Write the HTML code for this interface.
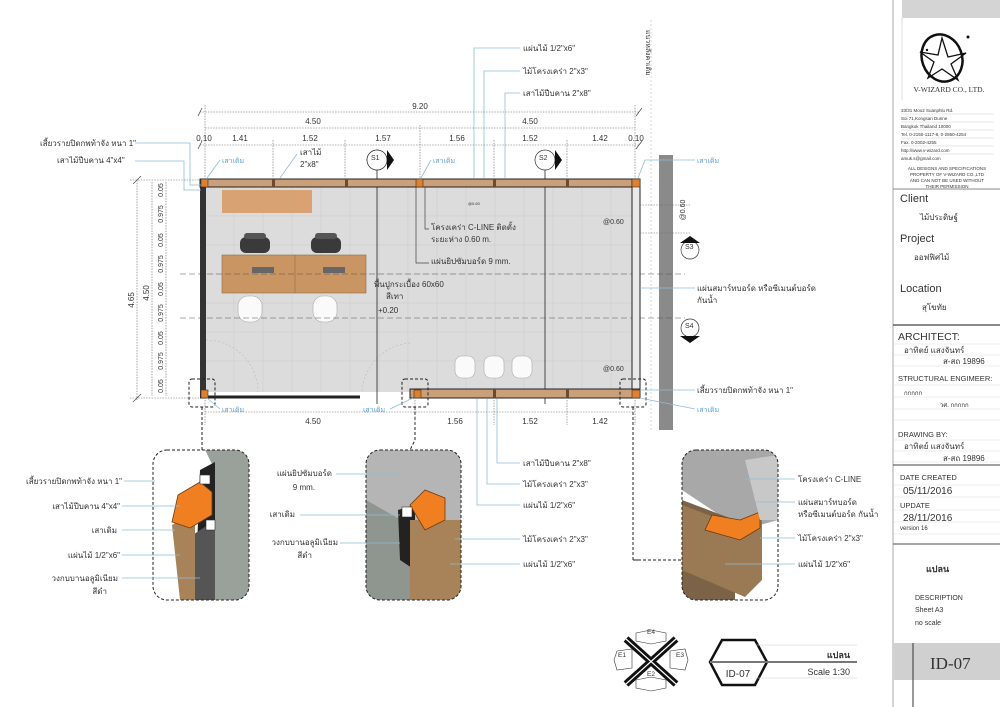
<!DOCTYPE html>
<html><head><meta charset="utf-8"><style>
html,body{margin:0;padding:0;background:#fff}
svg{display:block}
text{font-family:"Liberation Sans","DejaVu Sans",sans-serif;fill:#333}
.s{font-size:8px}.m{font-size:9px}.b{fill:#5a9fd0;font-size:7px}
.cl{stroke:#8fbcd8;stroke-width:.8;fill:none}
.dm{stroke:#666;stroke-width:.6;fill:none;stroke-dasharray:1.5 1.2}
.dl{stroke:#444;stroke-width:.7;fill:none}
.dash{stroke:#222;stroke-width:1;fill:none;stroke-dasharray:3 2}
.hl{stroke:#ccc;stroke-width:.6}
</style></head><body>
<svg width="1000" height="707" viewBox="0 0 1000 707" xmlns="http://www.w3.org/2000/svg">
<defs>
<clipPath id="c1"><rect x="153" y="450" width="96" height="150" rx="14"/></clipPath>
<clipPath id="c2"><rect x="366" y="450" width="95" height="150" rx="14"/></clipPath>
<clipPath id="c3"><rect x="682" y="450" width="96" height="150" rx="14"/></clipPath>
</defs>

<!-- ===== TITLE BLOCK ===== -->
<line x1="893" y1="0" x2="893" y2="707" stroke="#aaa" stroke-width="1"/>
<rect x="902" y="0" width="98" height="18" fill="#d4d4d4"/>
<line x1="902" y1="18" x2="902" y2="100" stroke="#ddd"/>
<!-- logo -->
<ellipse cx="942" cy="58" rx="20" ry="24" fill="none" stroke="#111" stroke-width="2.5" transform="rotate(-20 942 58)"/>
<polygon points="942,38 948,57 966,53 951,64 958,80 942,69 928,78 934,62 920,52 938,55" fill="none" stroke="#111" stroke-width="1.3"/>
<circle cx="968" cy="37" r="1.5" fill="#111"/><circle cx="927" cy="50" r="1.2" fill="#111"/>
<text x="949" y="92" text-anchor="middle" style="font-family:'Liberation Serif',serif;font-size:7.5px" fill="#222">V-WIZARD CO., LTD.</text>
<g class="s" style="font-size:4.5px" fill="#888">
<text x="901" y="112" fill="#888">33/31 Moo2 Suanphlu Rd.</text><line x1="901" y1="114" x2="994" y2="114" class="hl"/>
<text x="901" y="120" fill="#888">Soi 71,Kongsan Dunne</text><line x1="901" y1="122" x2="994" y2="122" class="hl"/>
<text x="901" y="128" fill="#888">Bangkok Thailand 10000</text><line x1="901" y1="130" x2="994" y2="130" class="hl"/>
<text x="901" y="136" fill="#888">Tel. 0-2150-1117-8, 0-2860-4254</text><line x1="901" y1="138" x2="994" y2="138" class="hl"/>
<text x="901" y="144" fill="#888">Fax. 0-2002-4255</text><line x1="901" y1="146" x2="994" y2="146" class="hl"/>
<text x="901" y="152" fill="#888">http://www.v-wizard.com</text><line x1="901" y1="154" x2="994" y2="154" class="hl"/>
<text x="901" y="160" fill="#888">amuk.s@gmail.com</text>
</g>
<g style="font-size:4.5px" text-anchor="middle">
<text x="947" y="170">ALL DESIGNS AND SPECIFICATIONS</text>
<text x="947" y="176">PROPERTY OF V-WIZARD CO.,LTD</text>
<text x="947" y="182">AND CAN NOT BE USED WITHOUT</text>
<text x="947" y="188">THEIR PERMISSION</text>
</g>
<line x1="893" y1="189" x2="1000" y2="189" stroke="#888"/>
<text x="900" y="202" style="font-size:11px">Client</text>
<text x="920" y="220" class="s">ไม้ประดิษฐ์</text>
<text x="900" y="242" style="font-size:11px">Project</text>
<text x="914" y="260" class="s">ออฟฟิศไม้</text>
<text x="900" y="292" style="font-size:11px">Location</text>
<text x="922" y="310" class="s">สุโขทัย</text>
<line x1="893" y1="325" x2="1000" y2="325" stroke="#444" stroke-width="1.2"/>
<text x="898" y="340" style="font-size:10.5px">ARCHITECT:</text>
<g stroke="#ddd" stroke-width=".6">
<line x1="893" y1="344" x2="1000" y2="344"/><line x1="893" y1="355" x2="1000" y2="355"/><line x1="893" y1="366" x2="1000" y2="366"/>
<line x1="893" y1="385" x2="1000" y2="385"/><line x1="893" y1="397" x2="1000" y2="397"/><line x1="893" y1="409" x2="1000" y2="409"/><line x1="893" y1="420" x2="1000" y2="420"/>
<line x1="893" y1="440" x2="1000" y2="440"/><line x1="893" y1="451" x2="1000" y2="451"/><line x1="893" y1="462" x2="1000" y2="462"/>
<line x1="893" y1="485" x2="1000" y2="485"/><line x1="893" y1="497" x2="1000" y2="497"/><line x1="893" y1="510" x2="1000" y2="510"/><line x1="893" y1="522" x2="1000" y2="522"/><line x1="893" y1="534" x2="1000" y2="534"/>
</g>
<text x="904" y="353" class="s">อาทิตย์ แสงจันทร์</text>
<text x="943" y="364" class="s">ส-สถ 19896</text>
<text x="898" y="381" style="font-size:7.5px">STRUCTURAL ENGIMEER:</text>
<text x="904" y="395" class="s" style="font-size:6px">กกกกก</text>
<text x="940" y="407" class="s" style="font-size:6px">วศ. กกกกก</text>
<text x="898" y="437" style="font-size:7.5px">DRAWING BY:</text>
<text x="904" y="449" class="s">อาทิตย์ แสงจันทร์</text>
<text x="943" y="461" class="s">ส-สถ 19896</text>
<line x1="893" y1="465" x2="1000" y2="465" stroke="#444" stroke-width="1"/>
<text x="900" y="480" style="font-size:7.5px">DATE CREATED</text>
<text x="903" y="494" style="font-size:10px">05/11/2016</text>
<text x="900" y="508" style="font-size:7.5px">UPDATE</text>
<text x="903" y="521" style="font-size:10px">28/11/2016</text>
<text x="900" y="530" style="font-size:6px">version 16</text>
<line x1="893" y1="544" x2="1000" y2="544" stroke="#888" stroke-width="1.5"/>
<text x="926" y="572" style="font-size:9px;font-weight:bold">แปลน</text>
<text x="915" y="600" style="font-size:7px" fill="#555">DESCRIPTION</text>
<text x="915" y="612" style="font-size:7px" fill="#555">Sheet  A3</text>
<text x="915" y="625" style="font-size:7px" fill="#555">no scale</text>
<rect x="893" y="643" width="107" height="37" fill="#d0d0d0"/>
<line x1="913" y1="643" x2="913" y2="707" stroke="#333" stroke-width="1"/>
<text x="930" y="669" style="font-family:'Liberation Serif',serif;font-size:17px" fill="#222">ID-07</text>

<!-- ===== PLAN ===== -->
<!-- concrete column -->
<rect x="659" y="155" width="14" height="275" fill="#8a8a8a"/>
<line x1="651" y1="20" x2="651" y2="430" stroke="#bbb" stroke-width=".6" stroke-dasharray="2 2"/>
<text x="0" y="0" transform="translate(646,30) rotate(90)" style="font-size:7px">แนวหลังคาเดิม</text>

<!-- floor -->
<rect x="205" y="187" width="430" height="205" fill="#dcdcdc"/>
<g stroke="#c9c9c9" stroke-width=".5">
<line x1="234" y1="187" x2="234" y2="392"/><line x1="263" y1="187" x2="263" y2="392"/><line x1="292" y1="187" x2="292" y2="392"/><line x1="321" y1="187" x2="321" y2="392"/><line x1="350" y1="187" x2="350" y2="392"/><line x1="379" y1="187" x2="379" y2="392"/><line x1="408" y1="187" x2="408" y2="392"/><line x1="437" y1="187" x2="437" y2="392"/><line x1="466" y1="187" x2="466" y2="392"/><line x1="495" y1="187" x2="495" y2="392"/><line x1="524" y1="187" x2="524" y2="392"/><line x1="553" y1="187" x2="553" y2="392"/><line x1="582" y1="187" x2="582" y2="392"/><line x1="611" y1="187" x2="611" y2="392"/>
<line x1="205" y1="216" x2="635" y2="216"/><line x1="205" y1="245" x2="635" y2="245"/><line x1="205" y1="274" x2="635" y2="274"/><line x1="205" y1="303" x2="635" y2="303"/><line x1="205" y1="332" x2="635" y2="332"/><line x1="205" y1="361" x2="635" y2="361"/>
</g>
<!-- furniture -->
<rect x="222" y="190" width="90" height="23" fill="#d8a273"/>
<rect x="222" y="255" width="144" height="38" fill="#c99563" stroke="#8b6a45" stroke-width=".6"/>
<line x1="295" y1="255" x2="295" y2="293" stroke="#8b6a45" stroke-width=".6"/>
<rect x="240" y="237" width="30" height="16" rx="6" fill="#3a3a3a"/><rect x="244" y="233" width="22" height="6" rx="3" fill="#555"/>
<rect x="311" y="237" width="30" height="16" rx="6" fill="#3a3a3a"/><rect x="315" y="233" width="22" height="6" rx="3" fill="#555"/>
<rect x="252" y="267" width="22" height="6" fill="#666"/><rect x="323" y="267" width="22" height="6" fill="#666"/>
<rect x="238" y="296" width="24" height="26" rx="10" fill="#fafafa" stroke="#aaa" stroke-width=".6"/>
<rect x="313" y="296" width="24" height="26" rx="10" fill="#fafafa" stroke="#aaa" stroke-width=".6"/>
<rect x="455" y="356" width="20" height="22" rx="7" fill="#fafafa" stroke="#aaa" stroke-width=".6"/>
<rect x="484" y="356" width="20" height="22" rx="7" fill="#fafafa" stroke="#aaa" stroke-width=".6"/>
<rect x="512" y="356" width="20" height="22" rx="7" fill="#fafafa" stroke="#aaa" stroke-width=".6"/>
<!-- door swings -->
<path d="M206 340 A52 52 0 0 1 258 392" fill="none" stroke="#bbb" stroke-width=".6" stroke-dasharray="2 2"/>
<path d="M410 343 A52 52 0 0 0 362 392" fill="none" stroke="#bbb" stroke-width=".6" stroke-dasharray="2 2"/>
<!-- section lines -->
<line x1="377" y1="155" x2="377" y2="404" stroke="#222" stroke-width=".8"/>
<line x1="545" y1="155" x2="545" y2="404" stroke="#222" stroke-width=".8"/>
<line x1="180" y1="274" x2="685" y2="274" stroke="#555" stroke-width=".6" stroke-dasharray="6 3"/>
<line x1="180" y1="318" x2="685" y2="318" stroke="#555" stroke-width=".6" stroke-dasharray="6 3"/>
<!-- walls -->
<rect x="200" y="179" width="440" height="8" fill="#c9a07a" stroke="#222" stroke-width="1"/>
<rect x="632" y="179" width="8" height="219" fill="#e9e9e9" stroke="#222" stroke-width="1"/>
<rect x="200" y="179" width="6" height="219" fill="#333"/>
<line x1="200" y1="397" x2="360" y2="397" stroke="#222" stroke-width="3"/>
<rect x="410" y="389" width="230" height="9" fill="#c9a07a" stroke="#222" stroke-width="1"/>
<g fill="#e0802a" stroke="#333" stroke-width=".6">
<rect x="201" y="179" width="7" height="8"/><rect x="416" y="179" width="7" height="8"/><rect x="632" y="179" width="8" height="8"/>
<rect x="201" y="390" width="7" height="8"/><rect x="414" y="390" width="7" height="8"/><rect x="632" y="390" width="8" height="8"/>
</g>
<g fill="#6b4a2d"><rect x="272" y="179" width="3" height="8"/><rect x="345" y="179" width="3" height="8"/><rect x="493" y="179" width="3" height="8"/><rect x="566" y="179" width="3" height="8"/><rect x="493" y="389" width="3" height="9"/><rect x="566" y="389" width="3" height="9"/></g>
<!-- detail callout dashed boxes on plan -->
<g class="dash" stroke-width=".7">
<rect x="189" y="379" width="26" height="28" rx="3"/><rect x="402" y="379" width="26" height="28" rx="3"/><rect x="620" y="379" width="26" height="28" rx="3"/>
<path d="M202 407 V450"/><path d="M415 407 V440 L410 450"/><path d="M633 407 V560 H640"/>
</g>
<!-- plan labels -->
<text x="431" y="230" class="s">โครงเคร่า C-LINE ติดตั้ง</text>
<text x="431" y="242" class="s">ระยะห่าง 0.60 m.</text>
<text x="431" y="264" class="s">แผ่นยิปซัมบอร์ด 9 mm.</text>
<path d="M425 187 V229 H429 M416 187 V263 H429" class="dl"/>
<text x="374" y="287" class="s">พื้นปูกระเบื้อง 60x60</text>
<text x="386" y="299" class="s">สีเทา</text>
<text x="378" y="313" class="s">+0.20</text>
<text x="603" y="224" class="s" style="font-size:7px">@0.60</text>
<text x="603" y="371" class="s" style="font-size:7px">@0.60</text>
<text x="468" y="205" style="font-size:4px">@0.60</text>
<text x="300" y="155" class="s">เสาไม้</text>
<text x="300" y="167" class="s">2"x8"</text>
<path d="M297 154 L280 178" class="cl"/>
<text x="222" y="163" class="b">เสาเดิม</text><path d="M220 160 L207 178" class="cl"/>
<text x="433" y="163" class="b">เสาเดิม</text><path d="M431 160 L421 178" class="cl"/>
<text x="697" y="163" class="b">เสาเดิม</text><path d="M695 160 H645 L638 178" class="cl"/>
<text x="222" y="412" class="b">เสาเดิม</text><path d="M220 409 L207 398" class="cl"/>
<text x="363" y="412" class="b">เสาเดิม</text><path d="M390 409 L413 398" class="cl"/>
<text x="697" y="412" class="b">เสาเดิม</text><path d="M695 409 L640 398" class="cl"/>
<text x="697" y="393" class="s">เสี้ยวรายปิดกพท้าจัง หนา 1"</text><path d="M695 390 H640" class="cl"/>
<text x="697" y="291" class="s">แผ่นสมาร์ทบอร์ด หรือซีเมนต์บอร์ด</text>
<text x="697" y="303" class="s">กันน้ำ</text><path d="M695 288 H640" class="cl"/>
<text x="40" y="146" class="s">เสี้ยวรายปิดกพท้าจัง หนา 1"</text><path d="M135 143 H190 V185 H201" class="cl"/>
<text x="57" y="163" class="s">เสาไม้ปีบคาน 4"x4"</text><path d="M135 161 H184 V190 H201" class="cl"/>
<text x="523" y="51" class="s">แผ่นไม้ 1/2"x6"</text><path d="M520 48 H474 V178" class="cl"/>
<text x="523" y="74" class="s">ไม้โครงเคร่า 2"x3"</text><path d="M520 71 H484 V178" class="cl"/>
<text x="523" y="96" class="s">เสาไม้ปีบคาน 2"x8"</text><path d="M520 93 H505 V178" class="cl"/>
<text x="523" y="466" class="s">เสาไม้ปีบคาน 2"x8"</text><path d="M520 463 H497 V399" class="cl"/>
<text x="523" y="487" class="s">ไม้โครงเคร่า 2"x3"</text><path d="M520 484 H487 V399" class="cl"/>
<text x="523" y="508" class="s">แผ่นไม้ 1/2"x6"</text><path d="M520 505 H477 V399" class="cl"/>
<!-- section markers -->
<g font-size="7">
<circle cx="377" cy="160" r="10" fill="#fff" stroke="#333" stroke-width=".7"/><polygon points="377,150 392,160 377,170" fill="#111"/><circle cx="377" cy="160" r="10" fill="#fff" stroke="#333" stroke-width=".7"/><text x="371" y="160">S1</text>
<circle cx="545" cy="160" r="10" fill="#fff" stroke="#333" stroke-width=".7"/><text x="539" y="160">S2</text>
<circle cx="690" cy="250" r="9" fill="#fff" stroke="#333" stroke-width=".7"/><text x="685" y="249">S3</text>
<circle cx="690" cy="328" r="9" fill="#fff" stroke="#333" stroke-width=".7"/><text x="685" y="328">S4</text>
</g>
<path d="M387 150 L394 160 L387 170Z M555 150 L562 160 L555 170Z M680 243 L690 236 L700 243Z M680 336 L690 343 L700 336Z" fill="#111"/>
<!-- dimensions top -->
<g class="dm">
<line x1="200" y1="112" x2="640" y2="112"/><line x1="205" y1="128" x2="635" y2="128"/><line x1="200" y1="145" x2="640" y2="145"/>
<line x1="205" y1="105" x2="205" y2="180"/><line x1="635" y1="105" x2="635" y2="180"/><line x1="273" y1="140" x2="273" y2="178"/><line x1="345" y1="140" x2="345" y2="178"/><line x1="420" y1="125" x2="420" y2="178"/><line x1="494" y1="140" x2="494" y2="178"/><line x1="567" y1="140" x2="567" y2="178"/>
<line x1="205" y1="412" x2="635" y2="412"/><line x1="205" y1="400" x2="205" y2="425"/><line x1="415" y1="400" x2="415" y2="425"/><line x1="494" y1="400" x2="494" y2="425"/><line x1="567" y1="400" x2="567" y2="425"/><line x1="635" y1="400" x2="635" y2="425"/>
<line x1="137" y1="180" x2="137" y2="400"/><line x1="152" y1="182" x2="152" y2="396"/><line x1="166" y1="182" x2="166" y2="396"/>
<line x1="130" y1="180" x2="200" y2="180"/><line x1="130" y1="398" x2="200" y2="398"/>
<line x1="640" y1="205" x2="690" y2="205"/><line x1="640" y1="233" x2="690" y2="233"/>
</g>
<g class="dl"><path d="M198 116 L202 108 M636 116 L642 108 M198 149 L202 141 M636 149 L642 141 M133 184 L141 176 M133 402 L141 394"/></g>
<g class="s" text-anchor="middle" style="font-size:8px">
<text x="420" y="109">9.20</text><text x="313" y="124">4.50</text><text x="530" y="124">4.50</text>
<text x="204" y="141">0.10</text><text x="240" y="141">1.41</text><text x="310" y="141">1.52</text><text x="383" y="141">1.57</text><text x="457" y="141">1.56</text><text x="530" y="141">1.52</text><text x="600" y="141">1.42</text><text x="636" y="141">0.10</text>
<text x="313" y="424">4.50</text><text x="455" y="424">1.56</text><text x="530" y="424">1.52</text><text x="600" y="424">1.42</text>
</g>
<text transform="translate(134,300) rotate(-90)" class="s" text-anchor="middle">4.65</text>
<text transform="translate(149,293) rotate(-90)" class="s" text-anchor="middle">4.50</text>
<text transform="translate(685,210) rotate(-90)" class="s" text-anchor="middle" style="font-size:7px">@0.60</text>
<g class="s" style="font-size:7px" text-anchor="middle">
<text transform="translate(163,190) rotate(-90)">0.05</text><text transform="translate(163,214) rotate(-90)">0.975</text>
<text transform="translate(163,240) rotate(-90)">0.05</text><text transform="translate(163,264) rotate(-90)">0.975</text>
<text transform="translate(163,289) rotate(-90)">0.05</text><text transform="translate(163,313) rotate(-90)">0.975</text>
<text transform="translate(163,338) rotate(-90)">0.05</text><text transform="translate(163,361) rotate(-90)">0.975</text>
<text transform="translate(163,386) rotate(-90)">0.05</text>
</g>

<!-- ===== DETAILS ===== -->
<g clip-path="url(#c1)">
<rect x="153" y="450" width="96" height="150" fill="#fff"/>
<polygon points="205,450 249,450 249,600 215,600 215,470" fill="#9aa09a"/>
<polygon points="200,470 215,462 215,600 195,600" fill="#222"/>
<polygon points="178,545 215,520 215,600 190,600" fill="#555"/>
<polygon points="172,525 195,512 195,600 180,600" fill="#a88259"/>
<polygon points="178,495 200,482 212,492 212,515 190,528 172,522" fill="#f07f22" stroke="#6b3a10" stroke-width=".8"/>
<rect x="200" y="475" width="10" height="9" fill="#fff" stroke="#333" stroke-width=".6"/>
<rect x="206" y="520" width="9" height="10" fill="#fff" stroke="#333" stroke-width=".6"/>
</g>
<rect x="153" y="450" width="96" height="150" rx="14" class="dash" stroke-width=".8"/>
<g clip-path="url(#c2)">
<rect x="366" y="450" width="95" height="150" fill="#b5b5b5"/>
<polygon points="366,500 410,525 410,600 366,600" fill="#8f958f"/>
<polygon points="398,510 415,505 415,570 400,560" fill="#222"/>
<polygon points="410,520 461,520 461,600 410,600" fill="#a88259"/>
<polygon points="410,505 425,490 445,498 445,520 425,530" fill="#f07f22" stroke="#6b3a10" stroke-width=".8"/>
<rect x="402" y="507" width="10" height="10" fill="#fff" stroke="#333" stroke-width=".6"/>
</g>
<rect x="366" y="450" width="95" height="150" rx="14" class="dash" stroke-width=".8"/>
<g clip-path="url(#c3)">
<rect x="682" y="450" width="96" height="150" fill="#fff"/>
<polygon points="682,450 778,450 778,520 742,530 682,490" fill="#a8a8a8"/>
<polygon points="682,500 735,520 735,600 682,600" fill="#7c6348"/>
<polygon points="682,505 735,525 762,515 762,580 745,597 682,570" fill="#9a7a55"/>
<polygon points="712,515 740,520 760,512 760,528 740,540 705,530" fill="#f07f22" stroke="#6b3a10" stroke-width=".8"/>
<polygon points="745,460 778,455 778,520 760,520" fill="#c8c8c8"/>
</g>
<rect x="682" y="450" width="96" height="150" rx="14" class="dash" stroke-width=".8"/>
<path d="M633 560 H682" class="dash" stroke-width=".7"/>
<!-- detail labels -->
<g class="s" text-anchor="end">
<text x="122" y="484">เสี้ยวรายปิดกพท้าจัง หนา 1"</text>
<text x="120" y="509">เสาไม้ปีบคาน 4"x4"</text>
<text x="117" y="533">เสาเดิม</text>
<text x="120" y="558">แผ่นไม้ 1/2"x6"</text>
<text x="118" y="581">วงกบบานอลูมิเนียม</text>
<text x="107" y="594">สีดำ</text>
<text x="332" y="476">แผ่นยิปซัมบอร์ด</text>
<text x="315" y="490">9 mm.</text>
<text x="295" y="517">เสาเดิม</text>
<text x="338" y="545">วงกบบานอลูมิเนียม</text>
<text x="312" y="558">สีดำ</text>
</g>
<path d="M124 481 H155 M122 506 H180 M122 530 H175 M122 555 H180 M122 578 H200 M336 474 H400 M300 515 H400 M340 543 H400" class="cl"/>
<text x="523" y="542" class="s">ไม้โครงเคร่า 2"x3"</text><path d="M520 539 H455" class="cl"/>
<text x="523" y="567" class="s">แผ่นไม้ 1/2"x6"</text><path d="M520 564 H450" class="cl"/>
<text x="798" y="482" class="s">โครงเคร่า C-LINE</text>
<text x="798" y="505" class="s">แผ่นสมาร์ทบอร์ด</text>
<text x="798" y="517" class="s">หรือซีเมนต์บอร์ด กันน้ำ</text>
<text x="798" y="541" class="s">ไม้โครงเคร่า 2"x3"</text>
<text x="798" y="567" class="s">แผ่นไม้ 1/2"x6"</text>
<path d="M795 479 H745 M795 502 H755 M795 538 H760 M795 564 H725" class="cl"/>

<!-- ===== COMPASS & TITLE ===== -->
<g stroke="#333" stroke-width=".6" fill="#fff">
<polygon points="636,633 651,630 666,633 666,641 651,644 636,641"/>
<polygon points="636,680 651,677 666,680 666,688 651,691 636,688"/>
<polygon points="617,651 632,649 632,668 617,670 614,660"/>
<polygon points="670,651 685,649 688,660 685,670 670,668"/>
</g>
<path d="M626 639 L676 684 M676 639 L626 684" stroke="#111" stroke-width="7"/>
<path d="M626 639 L676 684 M676 639 L626 684" stroke="#fff" stroke-width="1.2"/>
<g style="font-size:6.5px" text-anchor="middle">
<text x="651" y="634">E4</text><text x="622" y="657">E1</text><text x="680" y="657">E3</text><text x="651" y="676">E2</text>
</g>
<polygon points="722,640 755,640 767,662 755,685 722,685 710,662" fill="#fff" stroke="#111" stroke-width="2.5"/>
<line x1="710" y1="662" x2="857" y2="662" stroke="#777" stroke-width="2"/>
<line x1="755" y1="645" x2="857" y2="645" stroke="#ccc" stroke-width=".6"/>
<line x1="755" y1="678" x2="857" y2="678" stroke="#ccc" stroke-width=".6"/>
<text x="738" y="677" text-anchor="middle" style="font-size:10px">ID-07</text>
<text x="850" y="658" text-anchor="end" style="font-size:9px;font-weight:bold">แปลน</text>
<text x="850" y="675" text-anchor="end" style="font-size:9px">Scale 1:30</text>
</svg>
</body></html>
